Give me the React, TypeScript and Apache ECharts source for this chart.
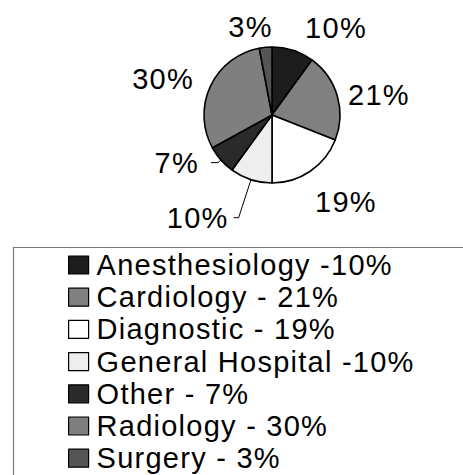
import React, { useEffect, useRef } from "react";
import * as echarts from "echarts";

const categories = [
  "Anesthesiology",
  "Cardiology",
  "Diagnostic",
  "General Hospital",
  "Other",
  "Radiology",
  "Surgery",
];
const shares = [10, 21, 19, 10, 7, 30, 3];
const legendLabels = [
  "Anesthesiology -10%",
  "Cardiology - 21%",
  "Diagnostic - 19%",
  "General Hospital -10%",
  "Other - 7%",
  "Radiology - 30%",
  "Surgery - 3%",
];

const sliceColors = ["#1c1c1c", "#808080", "#ffffff", "#eeeeee", "#2a2a2a", "#7f7f7f", "#555555"];
// per-slice label placement styling (leader length, second segment, text distance, line shown)
const labelStyles = [
  { len: 23, len2: 0, dist: 5, line: false },
  { len: 5, len2: 0, dist: 6, line: false },
  { len: 37, len2: 0, dist: -16, line: false },
  { len: 40, len2: 5, dist: 5, line: true },
  { len: 4, len2: 7, dist: 12, line: true },
  { len: 16, len2: 0, dist: 2, line: false },
  { len: 20, len2: 0, dist: -9, line: false },
];

const FONT = "'Liberation Sans', Arial, sans-serif";

export default function App() {
  const ref = useRef<HTMLDivElement>(null);
  useEffect(() => {
    if (!ref.current) return;
    const chart = echarts.init(ref.current, undefined, { renderer: "svg" });
    const data = categories.map((name, i) => ({
      name,
      value: shares[i],
      itemStyle: { color: sliceColors[i] },
      label: { distanceToLabelLine: labelStyles[i].dist },
      labelLine: {
        show: labelStyles[i].line,
        length: labelStyles[i].len,
        length2: labelStyles[i].len2,
      },
    }));
    chart.setOption({
      animation: false,
      backgroundColor: "#ffffff",
      graphic: [
        {
          type: "rect",
          left: 11,
          top: 245,
          shape: { width: 520, height: 300 },
          style: { fill: "none", stroke: "#7a7a7a", lineWidth: 1.2 },
          z: 0,
        },
      ],
      legend: {
        orient: "vertical",
        left: 68,
        top: 249,
        width: 380,
        height: 300,
        padding: 0,
        itemGap: 0.2,
        itemWidth: 20,
        itemHeight: 18,
        icon: "rect",
        selectedMode: false,
        data: categories,
        formatter: (name: string) => legendLabels[categories.indexOf(name)],
        textStyle: {
          fontFamily: FONT,
          fontSize: 29,
          lineHeight: 32,
          color: "#000",
          padding: [0, 0, 0, 3],
        },
        itemStyle: { borderColor: "#000", borderWidth: 1.2 },
      },
      series: [
        {
          type: "pie",
          center: [272, 115],
          radius: 68,
          startAngle: 90,
          clockwise: true,
          avoidLabelOverlap: false,
          itemStyle: { borderColor: "#000", borderWidth: 1.6 },
          label: {
            show: true,
            position: "outside",
            formatter: "{c}%",
            fontFamily: FONT,
            fontSize: 29,
            color: "#000",
          },
          labelLine: {
            lineStyle: { color: "#000", width: 1 },
            smooth: false,
          },
          emphasis: { disabled: true },
          data,
        },
      ],
    });
    return () => chart.dispose();
  }, []);
  return (
    <div
      ref={ref}
      style={{
        position: "fixed",
        left: 0,
        top: 0,
        width: 463,
        height: 475,
        letterSpacing: "1.25px",
      }}
    />
  );
}
